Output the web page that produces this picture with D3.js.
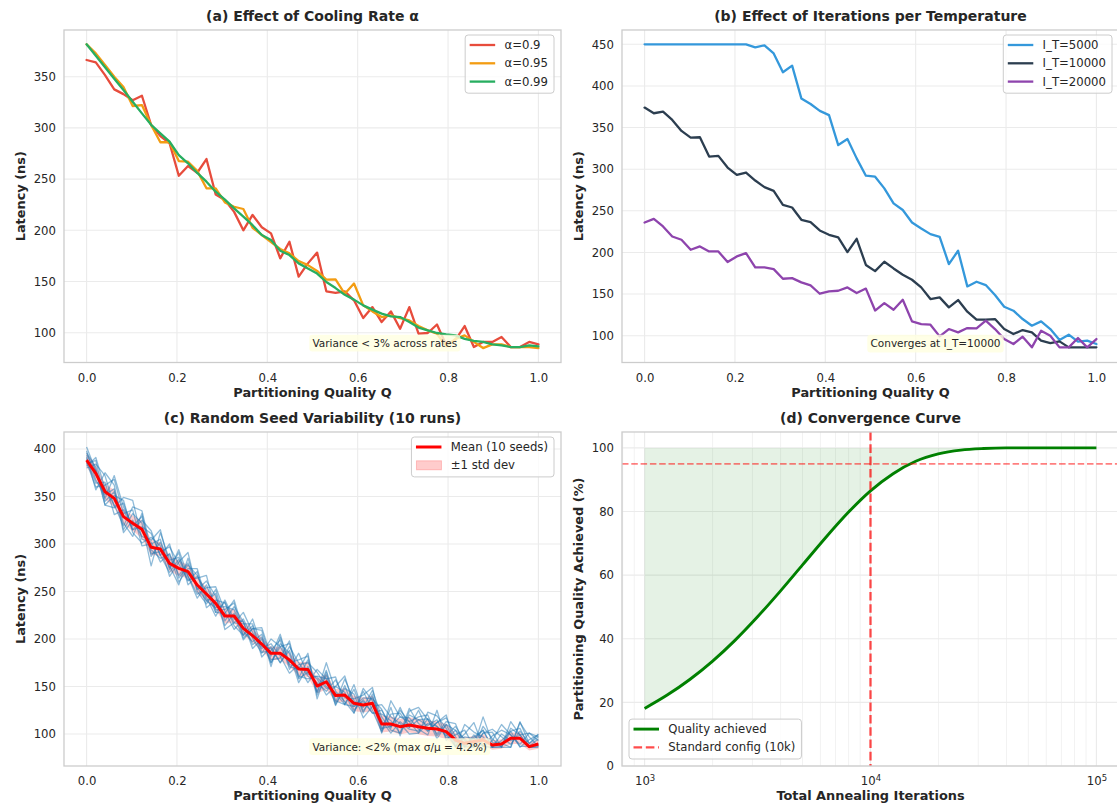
<!DOCTYPE html>
<meta charset='utf-8'>
<head>
    <title>Annealing sensitivity</title>
    <script src='https://cdn.jsdelivr.net/npm/d3@7'></script>
</head>

<style>
    body { margin: 0; background: #fff; }
    svg { font-family: 'DejaVu Sans', sans-serif; }
    .axis .tick text { fill: #262626; font-size: 11.7px; font-family: 'DejaVu Sans', sans-serif; }
    .grid line { stroke: #ebebeb; stroke-width: 1.1px; }
    .minor line { stroke: #f1f1f1; stroke-width: 0.9px; }
    .frame { fill: none; stroke: #cccccc; stroke-width: 1.3px; }
    .title { font-size: 14px; font-weight: bold; fill: #262626; text-anchor: middle; }
    .label { font-size: 12.9px; font-weight: bold; fill: #262626; text-anchor: middle; }
    .legend text { font-size: 11.7px; fill: #262626; }
    .note { font-size: 10.5px; fill: #262626; }
</style>

<svg width='1117' height='807'></svg>

<script>
    // sampling grid of partitioning quality Q (50 points, 0..1)
    var qGrid = d3.range(50).map(function (i) { return i / 49; });

    // (a) cooling rate
    var rateLabels = ['α=0.9', 'α=0.95', 'α=0.99'];
    var rateColors = ['#e74c3c', '#f39c12', '#27ae60'];
    var alpha090 = [366.3, 364, 351.6, 337.6, 333, 327, 331.4, 302.8, 292, 285, 253.3, 262.8, 256.2, 269.6, 235, 229.6, 218, 200, 215, 203,
        197, 172.6, 188.8, 154.7, 167.7, 178.2, 140.4, 139, 140.4, 131.6, 114.3, 125, 110.4, 120.8, 103.9, 125, 99, 99.7, 108, 88,
        93, 106.5, 86, 91, 91, 95.8, 86, 86, 91, 88.6];
    var alpha095 = [381.6, 372.8, 361.4, 350, 340, 321.4, 322.3, 302.8, 286, 286, 267.6, 267, 258, 241, 241, 227.3, 223, 220.8, 202.5, 195.4,
        188.5, 181.7, 177.5, 170, 166, 160.3, 151.8, 152, 138, 148, 126.7, 120.8, 115.3, 117, 114.3, 112, 106.5, 102.3, 99, 86.6,
        94, 97.4, 91, 85, 88.6, 88.6, 86, 86, 86, 85];
    var alpha099 = [381.6, 370.5, 359.3, 348, 337, 325.5, 314.2, 303, 294.6, 286.5, 273.5, 265.4, 256, 247.5, 237.7, 230, 221.4, 213.3, 205, 195.4,
        190.5, 180, 175.8, 167.7, 162.8, 157.7, 149.5, 143.6, 137, 132.3, 126.7, 122.5, 118.6, 116, 115.3, 110.4, 105, 102.3, 99.7, 98.4,
        97.4, 94, 92, 91, 88.6, 87.6, 86, 86, 87.6, 86.6];

    // (b) iterations per temperature
    var iterLabels = ['I_T=5000', 'I_T=10000', 'I_T=20000'];
    var iterColors = ['#3498db', '#2c3e50', '#8e44ad'];
    var iter5000 = [450, 450, 450, 450, 450, 450, 450, 450, 450, 450, 450, 450, 446.4, 448.8, 439, 416.4, 424.4, 385, 378.3, 370,
        365, 329, 336.2, 313, 292.2, 291, 277, 259, 251, 236, 228.8, 222, 218.8, 186, 202, 159.2, 164.8, 160.8, 148.8, 134.8,
        130, 120, 112, 117.2, 108, 94.8, 101.2, 92.8, 94, 90];
    var iter10000 = [374, 367.2, 369.2, 359.2, 346, 338, 338.4, 315.2, 316, 302, 293.2, 296, 286.4, 278.4, 274, 257.2, 254, 239.2, 236.4, 226.4,
        221.2, 218, 200.4, 216.4, 185, 177.6, 188.8, 180.8, 173.2, 167.2, 158, 144, 146, 134, 142.8, 128.8, 119.2, 119.2, 120, 108,
        102, 106.8, 104, 94, 91.2, 93.2, 86, 86, 86, 86];
    var iter20000 = [236, 240.4, 231.2, 219.2, 215.2, 203.2, 207.2, 201.2, 201.2, 188.4, 195.2, 199.2, 182, 182, 180, 168.4, 169.2, 164, 160.4, 150.4,
        153.2, 154, 158, 151.2, 156.6, 130.2, 139.2, 131.2, 143.2, 117.2, 114, 113.2, 99.2, 108, 104, 109.2, 108.8, 118, 108, 96,
        90, 98.8, 86, 106, 100, 86, 86, 97.2, 86, 96];

    // (c) random seeds
    var seedMean = [388.4, 374.4, 355, 348, 328.8, 321.8, 315.4, 296.5, 294.7, 279.6, 274.4, 270.9, 256.8, 247.4, 237.5, 224.2, 224.2, 211.2, 203.5, 194.7,
        184.9, 184.9, 178, 168.4, 168, 150.5, 155, 140.4, 141, 132.3, 130.5, 132.3, 110.5, 110.5, 107.7, 109.5, 107.7, 106, 105.3, 102.5,
        93.7, 90.2, 92, 93.7, 88.4, 89.5, 95.5, 95.5, 86.7, 89.5];
    var seedStd = [7, 8, 8, 9, 8, 8, 9, 8, 7, 8, 8, 7, 8, 7, 7, 8, 7, 7, 7, 7, 7, 7, 7, 7, 8,
        8, 8, 7, 7, 8, 8, 8, 9, 8, 8, 8, 8, 8, 8, 8, 7, 6, 6, 6, 5, 5, 6, 6, 4, 5];
    var seed0 = [402, 377, 348, 372, 339, 319, 329, 287, 302, 275, 291, 257, 266, 250, 228, 239, 217, 216, 216, 186, 188, 199, 168, 185, 163,
        160, 148, 150, 161, 129, 138, 137, 126, 106, 128, 107, 115, 109, 115, 96, 99, 104, 87, 118, 91, 90, 86, 113, 90, 97];
    var seed1 = [380, 384, 372, 339, 349, 346, 305, 302, 281, 290, 267, 280, 252, 261, 245, 214, 227, 199, 211, 209, 178, 180, 198, 159, 178,
        144, 167, 135, 131, 147, 122, 142, 104, 128, 98, 124, 128, 115, 100, 113, 111, 87, 99, 87, 93, 110, 99, 87, 87, 95];
    var seed2 = [392, 357, 375, 362, 315, 332, 322, 277, 312, 283, 286, 266, 247, 254, 255, 229, 210, 221, 201, 185, 200, 192, 173, 171, 154,
        168, 158, 131, 148, 142, 117, 129, 131, 118, 111, 100, 101, 123, 119, 106, 86, 110, 102, 97, 86, 86, 113, 99, 86, 86];
    var seed3 = [396, 381, 341, 351, 346, 312, 301, 307, 298, 266, 281, 291, 250, 237, 252, 219, 234, 218, 190, 200, 175, 195, 185, 154, 171,
        144, 175, 145, 134, 122, 148, 135, 101, 135, 118, 117, 105, 99, 125, 93, 104, 95, 86, 108, 95, 86, 86, 112, 97, 87];
    var seed4 = [382, 391, 358, 341, 319, 339, 335, 294, 285, 289, 260, 274, 274, 240, 233, 234, 231, 204, 221, 192, 190, 175, 192, 175, 161,
        154, 145, 157, 138, 137, 141, 149, 106, 108, 125, 113, 118, 120, 98, 110, 91, 100, 112, 87, 86, 93, 103, 86, 94, 99];
    var seed5 = [390, 364, 365, 331, 336, 315, 325, 314, 288, 270, 284, 262, 264, 267, 228, 227, 241, 208, 197, 205, 171, 202, 175, 178, 182,
        141, 162, 130, 151, 125, 136, 122, 121, 114, 101, 127, 111, 103, 112, 117, 97, 86, 97, 104, 86, 87, 106, 99, 86, 87];
    var seed6 = [398, 367, 352, 358, 312, 325, 308, 304, 315, 277, 257, 285, 254, 240, 248, 210, 217, 228, 207, 190, 195, 182, 164, 173, 175,
        165, 150, 143, 131, 152, 124, 139, 114, 101, 113, 105, 103, 116, 108, 98, 108, 93, 86, 101, 105, 97, 89, 103, 90, 100];
    var seed7 = [384, 388, 345, 355, 322, 308, 332, 290, 292, 297, 279, 261, 271, 233, 241, 238, 214, 204, 214, 181, 192, 175, 188, 158, 165,
        158, 141, 150, 144, 122, 145, 125, 102, 121, 122, 107, 125, 103, 112, 120, 87, 90, 95, 87, 98, 104, 99, 89, 101, 93];
    var seed8 = [386, 360, 362, 368, 332, 336, 298, 300, 305, 273, 294, 266, 243, 257, 231, 231, 238, 201, 211, 212, 182, 205, 171, 168, 185,
        137, 165, 133, 158, 135, 128, 146, 118, 104, 101, 120, 115, 116, 95, 110, 104, 87, 86, 101, 102, 86, 103, 106, 86, 90];
    var seed9 = [394, 377, 341, 338, 343, 315, 318, 311, 288, 300, 264, 278, 267, 244, 224, 241, 221, 218, 194, 202, 175, 192, 195, 161, 158,
        161, 158, 160, 131, 129, 134, 122, 125, 108, 118, 113, 101, 111, 108, 100, 87, 97, 95, 104, 86, 100, 93, 99, 101, 97];
    var seedRuns = [seed0, seed1, seed2, seed3, seed4, seed5, seed6, seed7, seed8, seed9];

    // (d) convergence
    var totalIters = [1000, 1259, 1585, 1995, 2512, 3162, 3981, 5012, 6310, 7943, 10000, 12589, 15849, 19953, 25119, 31623, 39811, 50119, 63096, 79433, 100000];
    var qualityPct = [18.1, 22.3, 27.2, 32.9, 39.5, 46.9, 54.9, 63.3, 71.7, 79.6, 86.5, 91.9, 95.8, 98.1, 99.3, 99.8, 100, 100, 100, 100, 100];
    var standardIters = 10000;
    var qualityTarget = 95;

    var qTicks = [0, 0.2, 0.4, 0.6, 0.8, 1.0];

    var svg = d3.select('svg');
    var defs = svg.append('defs');

    function makePanel(o) {
        var x = (o.log ? d3.scaleLog() : d3.scaleLinear()).domain(o.xd).range([o.x0, o.x1]);
        var y = d3.scaleLinear().domain(o.yd).range([o.y1, o.y0]);
        var g = svg.append('g');

        defs.append('clipPath').attr('id', 'clip-' + o.id).append('rect')
            .attr('x', o.x0).attr('y', o.y0).attr('width', o.x1 - o.x0).attr('height', o.y1 - o.y0);

        if (o.minor) {
            g.append('g').attr('class', 'minor').selectAll('line').data(o.minor).enter().append('line')
                .attr('x1', x).attr('x2', x).attr('y1', o.y0).attr('y2', o.y1);
        }
        var grid = g.append('g').attr('class', 'grid');
        grid.selectAll('.gx').data(o.xt).enter().append('line').attr('class', 'gx')
            .attr('x1', x).attr('x2', x).attr('y1', o.y0).attr('y2', o.y1);
        grid.selectAll('.gy').data(o.yt).enter().append('line').attr('class', 'gy')
            .attr('y1', y).attr('y2', y).attr('x1', o.x0).attr('x2', o.x1);

        var ax = g.append('g').attr('class', 'axis').attr('transform', 'translate(0,' + o.y1 + ')')
            .call(d3.axisBottom(x).tickValues(o.xt).tickFormat(o.xf).tickSize(0).tickPadding(11));
        ax.select('.domain').remove();
        var ay = g.append('g').attr('class', 'axis').attr('transform', 'translate(' + o.x0 + ',0)')
            .call(d3.axisLeft(y).tickValues(o.yt).tickFormat(d3.format('d')).tickSize(0).tickPadding(8));
        ay.select('.domain').remove();

        var plot = g.append('g').attr('clip-path', 'url(#clip-' + o.id + ')');
        g.append('rect').attr('class', 'frame')
            .attr('x', o.x0).attr('y', o.y0).attr('width', o.x1 - o.x0).attr('height', o.y1 - o.y0);
        var top = g.append('g');

        g.append('text').attr('class', 'title').attr('x', (o.x0 + o.x1) / 2).attr('y', o.y0 - 9).text(o.title);
        g.append('text').attr('class', 'label').attr('x', (o.x0 + o.x1) / 2).attr('y', o.y1 + 34).text(o.xlabel);
        g.append('text').attr('class', 'label')
            .attr('transform', 'translate(' + (o.x0 - 39) + ',' + (o.y0 + o.y1) / 2 + ') rotate(-90)')
            .text(o.ylabel);

        return { x: x, y: y, plot: plot, top: top, axisX: ax, o: o };
    }

    function legend(p, items, corner) {
        var lg = p.top.append('g').attr('class', 'legend');
        var box = lg.append('rect').attr('rx', 3).attr('ry', 3)
            .attr('fill', '#fff').attr('fill-opacity', 0.8).attr('stroke', '#cccccc').attr('stroke-width', 1);
        var maxW = 0;
        items.forEach(function (d, i) {
            var cy = 10 + 18.3 * i;
            if (d.patch) {
                lg.append('rect').attr('x', 5).attr('y', cy - 4.5).attr('width', 25).attr('height', 9)
                    .attr('fill', d.color).attr('fill-opacity', 0.2).attr('stroke', d.color).attr('stroke-opacity', 0.2);
            } else {
                lg.append('line').attr('x1', 4.5).attr('x2', 30).attr('y1', cy).attr('y2', cy)
                    .attr('stroke', d.color).attr('stroke-width', d.width)
                    .attr('stroke-opacity', d.opacity || 1)
                    .attr('stroke-dasharray', d.dash || null);
            }
            var t = lg.append('text').attr('x', 39.3).attr('y', cy).attr('dy', '0.35em').text(d.label);
            maxW = Math.max(maxW, t.node().getComputedTextLength());
        });
        var w = 39.3 + maxW + 6;
        var h = 21.6 + 18.3 * (items.length - 1);
        box.attr('width', w).attr('height', h);
        var o = p.o, lx, ly;
        if (corner === 'upper right') { lx = o.x1 - 7 - w; ly = o.y0 + 5; }
        else { lx = o.x0 + 7; ly = o.y1 - 7 - h; }
        lg.attr('transform', 'translate(' + lx + ',' + ly + ')');
    }

    function note(p, txt) {
        var o = p.o;
        var ng = p.top.append('g');
        var r = ng.append('rect').attr('rx', 3).attr('ry', 3)
            .attr('fill', '#ffffe0').attr('fill-opacity', 0.8);
        var t = ng.append('text').attr('class', 'note')
            .attr('x', o.x0 + (o.x1 - o.x0) * 0.5).attr('y', o.y1 - 19).attr('dy', '0.35em').text(txt);
        var b = t.node().getBBox();
        r.attr('x', b.x - 3.2).attr('y', b.y - 2.4).attr('width', b.width + 6.4).attr('height', b.height + 4.8);
    }

    function drawLines(p, series, colors, width) {
        var line = d3.line().x(function (d, i) { return p.x(qGrid[i]); }).y(function (d) { return p.y(d); });
        series.forEach(function (s, k) {
            p.plot.append('path').datum(s).attr('d', line)
                .attr('fill', 'none').attr('stroke', colors[k]).attr('stroke-width', width)
                .attr('stroke-linejoin', 'round').attr('stroke-linecap', 'round');
        });
    }

    // ---------- (a)
    var pa = makePanel({
        id: 'a', x0: 64, x1: 561, y0: 30, y1: 362.5, xd: [-0.05, 1.05], yd: [70.9, 395.6],
        xt: qTicks, xf: d3.format('.1f'), yt: [100, 150, 200, 250, 300, 350],
        title: '(a) Effect of Cooling Rate α', xlabel: 'Partitioning Quality Q', ylabel: 'Latency (ns)'
    });
    drawLines(pa, [alpha090, alpha095, alpha099], rateColors, 2.3);
    note(pa, 'Variance < 3% across rates');
    legend(pa, rateLabels.map(function (l, i) { return { label: l, color: rateColors[i], width: 2.3 }; }), 'upper right');

    // ---------- (b)
    var pb = makePanel({
        id: 'b', x0: 622, x1: 1119, y0: 30, y1: 362.5, xd: [-0.05, 1.05], yd: [67.8, 467.2],
        xt: qTicks, xf: d3.format('.1f'), yt: [100, 150, 200, 250, 300, 350, 400, 450],
        title: '(b) Effect of Iterations per Temperature', xlabel: 'Partitioning Quality Q', ylabel: 'Latency (ns)'
    });
    drawLines(pb, [iter5000, iter10000, iter20000], iterColors, 2.3);
    note(pb, 'Converges at I_T=10000');
    legend(pb, iterLabels.map(function (l, i) { return { label: l, color: iterColors[i], width: 2.3 }; }), 'upper right');

    // ---------- (c)
    var pc = makePanel({
        id: 'c', x0: 64, x1: 561, y0: 432, y1: 766, xd: [-0.05, 1.05], yd: [66.3, 417.9],
        xt: qTicks, xf: d3.format('.1f'), yt: [100, 150, 200, 250, 300, 350, 400],
        title: '(c) Random Seed Variability (10 runs)', xlabel: 'Partitioning Quality Q', ylabel: 'Latency (ns)'
    });
    var band = d3.area()
        .x(function (d, i) { return pc.x(qGrid[i]); })
        .y0(function (d, i) { return pc.y(d - seedStd[i]); })
        .y1(function (d, i) { return pc.y(d + seedStd[i]); });
    pc.plot.append('path').datum(seedMean).attr('d', band).attr('fill', '#ff0000').attr('fill-opacity', 0.2);
    var seedLine = d3.line().x(function (d, i) { return pc.x(qGrid[i]); }).y(function (d) { return pc.y(d); });
    pc.plot.selectAll('.seed').data(seedRuns).enter().append('path').attr('class', 'seed')
        .attr('d', seedLine).attr('fill', 'none').attr('stroke', '#1f77b4').attr('stroke-opacity', 0.5)
        .attr('stroke-width', 1.3).attr('stroke-linejoin', 'round');
    pc.plot.append('path').datum(seedMean).attr('d', seedLine).attr('fill', 'none')
        .attr('stroke', '#ff0000').attr('stroke-width', 3).attr('stroke-linejoin', 'round');
    note(pc, 'Variance: <2% (max σ/μ = 4.2%)');
    legend(pc, [
        { label: 'Mean (10 seeds)', color: '#ff0000', width: 3 },
        { label: '±1 std dev', color: '#ff0000', patch: true }
    ], 'upper right');

    // ---------- (d)
    var xdLog = [Math.pow(10, 2.9), Math.pow(10, 5.1)];
    var minorTicks = d3.scaleLog().domain(xdLog).ticks().filter(function (v) {
        return Math.abs(Math.log10(v) - Math.round(Math.log10(v))) > 1e-6;
    });
    var pd = makePanel({
        id: 'd', log: true, x0: 622, x1: 1119, y0: 432, y1: 766, xd: xdLog, yd: [0, 105],
        xt: [1000, 10000, 100000], xf: function () { return '10'; }, yt: [0, 20, 40, 60, 80, 100], minor: minorTicks,
        title: '(d) Convergence Curve', xlabel: 'Total Annealing Iterations', ylabel: 'Partitioning Quality Achieved (%)'
    });
    pd.axisX.selectAll('.tick text').append('tspan')
        .attr('dy', '-0.45em').attr('font-size', '8.5px')
        .text(function (d) { return String(Math.round(Math.log10(d))); });

    var fillArea = d3.area()
        .x(function (d, i) { return pd.x(totalIters[i]); })
        .y0(pd.y(100))
        .y1(function (d) { return pd.y(d); })
        .curve(d3.curveMonotoneX);
    pd.plot.append('path').datum(qualityPct).attr('d', fillArea).attr('fill', '#008000').attr('fill-opacity', 0.1);
    var qLine = d3.line()
        .x(function (d, i) { return pd.x(totalIters[i]); })
        .y(function (d) { return pd.y(d); })
        .curve(d3.curveMonotoneX);
    pd.plot.append('path').datum(qualityPct).attr('d', qLine).attr('fill', 'none')
        .attr('stroke', '#008000').attr('stroke-width', 2.9);
    pd.plot.append('line').attr('x1', pd.x(standardIters)).attr('x2', pd.x(standardIters))
        .attr('y1', 432).attr('y2', 766).attr('stroke', '#ff0000').attr('stroke-opacity', 0.7)
        .attr('stroke-width', 2.3).attr('stroke-dasharray', '8.6,3.7');
    pd.plot.append('line').attr('x1', 622).attr('x2', 1119)
        .attr('y1', pd.y(qualityTarget)).attr('y2', pd.y(qualityTarget)).attr('stroke', '#ff0000').attr('stroke-opacity', 0.5)
        .attr('stroke-width', 1.75).attr('stroke-dasharray', '6.5,2.8');
    legend(pd, [
        { label: 'Quality achieved', color: '#008000', width: 2.9 },
        { label: 'Standard config (10k)', color: '#ff0000', width: 2.3, opacity: 0.7, dash: '8.6,3.7' }
    ], 'lower left');
</script>
